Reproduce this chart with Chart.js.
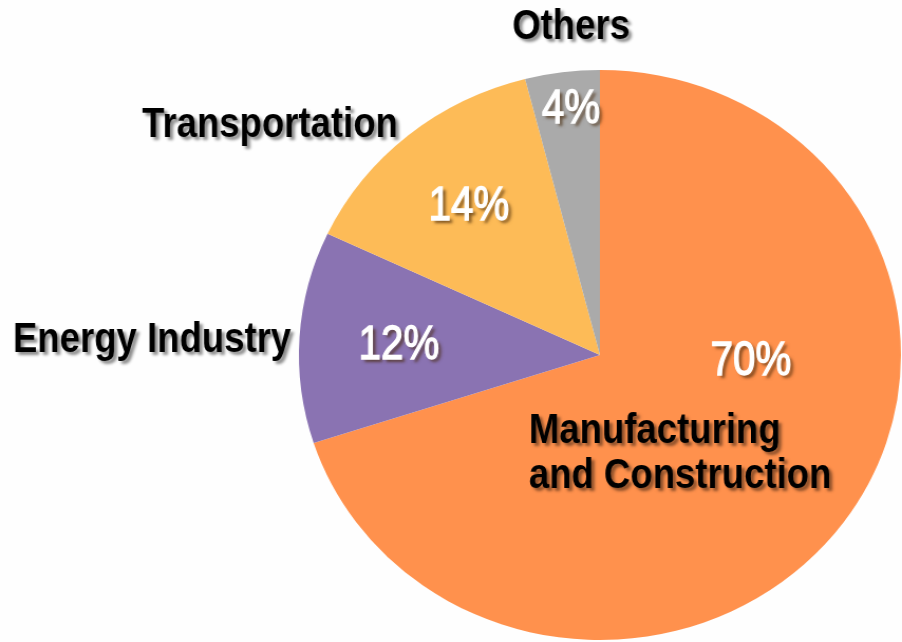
<!DOCTYPE html>
<html>
<head>
<meta charset="utf-8">
<script src="https://cdn.jsdelivr.net/npm/chart.js@4/dist/chart.umd.min.js"></script>
<style>
  html, body { margin: 0; padding: 0; background: #fefefe; }
  #chart { display: block; }
</style>
</head>
<body>
<!-- pie is an ellipse in the picture, so the canvas is drawn narrower and stretched -->
<canvas id="chart" width="854" height="642" style="width:902px;height:642px"></canvas>
<script>
const categories = [["Manufacturing", "and Construction"], ["Energy Industry"], ["Transportation"], ["Others"]];
const shares = [70, 12, 14, 4];
const sliceColours = ["#FF914D", "#8A73B2", "#FDBB57", "#AAAAAA"];

// where each text goes, in radius units from the pie centre
const nameSpots = [
  { dx: -0.236, dy: 0.309, align: "left", lineGap: 45 },
  { dx: -1.488, dy: -0.011, align: "center" },
  { dx: -1.096, dy: -0.765, align: "center" },
  { dx: -0.096, dy: -1.109, align: "center" }
];
const pctSpots = [
  { dx: 0.502, dy: 0.070 },
  { dx: -0.668, dy: 0.014 },
  { dx: -0.435, dy: -0.474 },
  { dx: -0.096, dy: -0.814 }
];

const STRETCH = 902 / 854;

const textPlugin = {
  id: "sliceText",
  afterDraw(chart) {
    const ctx = chart.ctx;
    const arcs = chart.getDatasetMeta(0).data;
    arcs.forEach((arc, i) => {
      const R = arc.outerRadius;
      // percentage inside the slice
      const p = pctSpots[i];
      drawText(ctx, shares[i] + "%", arc.x + p.dx * R, arc.y + p.dy * R, "center",
        "normal 48px 'Liberation Sans', Arial, sans-serif", "#ffffff", "rgba(70,40,10,0.7)", 0.84, 1.4);
      // category name
      const n = nameSpots[i];
      categories[i].forEach((line, k) => {
        drawText(ctx, line, arc.x + n.dx * R, arc.y + n.dy * R + k * (n.lineGap || 0), n.align,
          "bold 42px 'Liberation Sans', Arial, sans-serif", "#000000", "rgba(0,0,0,0.45)", 0.87, 0);
      });
    });
  }
};

function drawText(ctx, txt, x, y, align, font, fill, shadow, squeeze, thicken) {
  ctx.save();
  ctx.translate(x, y);
  ctx.scale(squeeze / STRETCH, 1);
  ctx.font = font;
  ctx.textAlign = align;
  ctx.textBaseline = "alphabetic";
  ctx.shadowColor = shadow;
  ctx.shadowOffsetX = 3;
  ctx.shadowOffsetY = 3;
  ctx.shadowBlur = 3;
  ctx.fillStyle = fill;
  ctx.fillText(txt, 0, 0);
  if (thicken) {
    ctx.shadowColor = "transparent";
    ctx.strokeStyle = fill;
    ctx.lineWidth = thicken;
    ctx.strokeText(txt, 0, 0);
  }
  ctx.restore();
}

new Chart(document.getElementById("chart").getContext("2d"), {
  type: "pie",
  data: {
    labels: categories.map(c => c.join(" ")),
    datasets: [{
      data: shares,
      backgroundColor: sliceColours,
      borderWidth: 0
    }]
  },
  options: {
    responsive: false,
    devicePixelRatio: 1,
    animation: false,
    layout: { padding: { top: 70, bottom: 2, left: 283, right: 1 } },
    plugins: {
      legend: { display: false },
      tooltip: { enabled: false }
    }
  },
  plugins: [textPlugin]
});
</script>
</body>
</html>
